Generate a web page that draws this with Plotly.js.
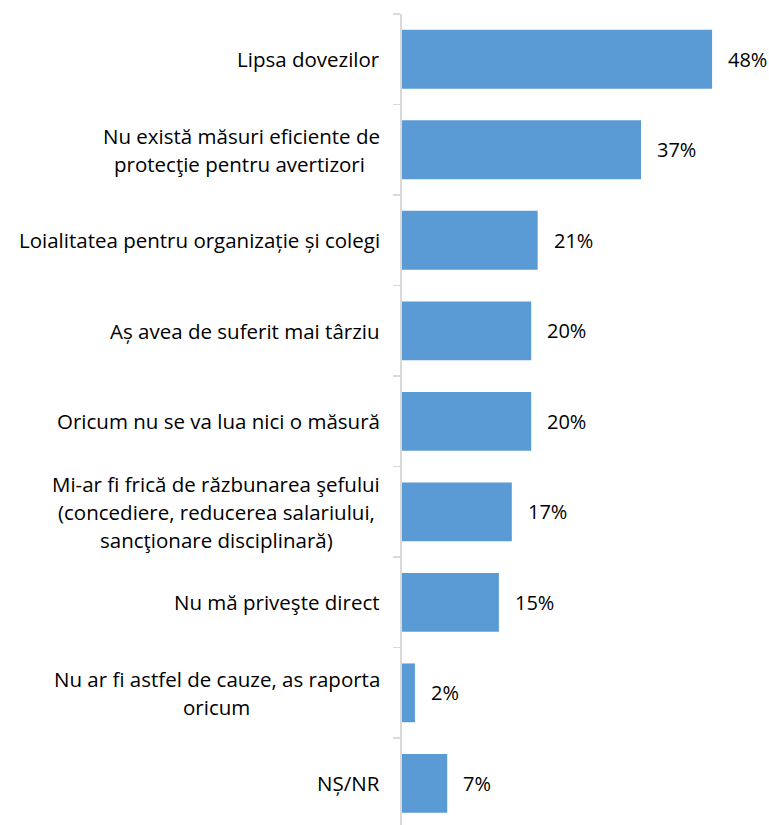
<!DOCTYPE html>
<html>
<head>
<meta charset="utf-8">
<script src="https://cdn.plot.ly/plotly-3.0.1.min.js"></script>
<style>html,body{margin:0;padding:0;background:#fff;}#chart{width:769px;height:825px;}</style>
</head>
<body>
<div id="chart"></div>
<script>
const categories = [
  "Lipsa dovezilor",
  "Nu există măsuri eficiente de<br>protecţie pentru avertizori ",
  "Loialitatea pentru organizație și colegi",
  "Aș avea de suferit mai târziu",
  "Oricum nu se va lua nici o măsură",
  "Mi-ar fi frică de răzbunarea şefului<br>(concediere, reducerea salariului,<br>sancţionare disciplinară)",
  "Nu mă priveşte direct",
  "Nu ar fi astfel de cauze, as raporta<br>oricum",
  "NȘ/NR"
];
const values = [48, 37, 21, 20, 20, 17, 15, 2, 7];
const valueLabels = ["48%", "37%", "21%", "20%", "20%", "17%", "15%", "2%", "7%"];

const FONT = "'Open Sans', 'Noto Sans', sans-serif";
const FS = 20.5;
const VFS = 20;
const LINE_H = 28;
const idx = categories.map((c, i) => i);

const meas = document.createElement('canvas').getContext('2d');
meas.font = FS + "px 'Open Sans'";

const annotations = [];
categories.forEach((c, i) => {
  const lines = c.split('<br>');
  const widths = lines.map(l => meas.measureText(l).width);
  const maxW = Math.max.apply(null, widths);
  lines.forEach((line, k) => {
    annotations.push({
      x: 0, xref: 'paper', xanchor: 'center', xshift: -22 - maxW / 2,
      y: i, yref: 'y', yanchor: 'middle',
      yshift: -(k - (lines.length - 1) / 2) * LINE_H,
      text: line, showarrow: false,
      font: {family: FONT, size: FS, color: '#000'}
    });
  });
  annotations.push({
    x: values[i], xref: 'x', xanchor: 'left', xshift: 14,
    y: i, yref: 'y', yanchor: 'middle',
    text: valueLabels[i], showarrow: false,
    font: {family: FONT, size: VFS, color: '#000'}
  });
});

const trace = {
  type: 'bar', orientation: 'h',
  x: values, y: idx,
  marker: {color: '#5B9BD5', line: {width: 0}},
  hoverinfo: 'none'
};

const layout = {
  width: 769, height: 825,
  margin: {l: 402, r: 44, t: 14, b: 0},
  paper_bgcolor: '#fff', plot_bgcolor: '#fff',
  showlegend: false,
  bargap: 0.35,
  xaxis: {range: [0, 50], visible: false, showgrid: false, zeroline: false},
  yaxis: {
    type: 'linear', range: [8.46, -0.5],
    tickmode: 'array', tickvals: [-0.5, 0.5, 1.5, 2.5, 3.5, 4.5, 5.5, 6.5, 7.5, 8.5],
    ticktext: ['', '', '', '', '', '', '', '', '', ''],
    ticks: 'outside', ticklen: 7, tickwidth: 1.5, tickcolor: '#d9d9d9',
    showline: true, linecolor: '#d9d9d9', linewidth: 2,
    showgrid: false, zeroline: false
  },
  annotations: annotations,
  font: {family: FONT, size: FS, color: '#000'}
};

document.fonts.load(FS + "px 'Open Sans'").then(() => {
  Plotly.newPlot('chart', [trace], layout, {staticPlot: true, displayModeBar: false});
});
</script>
</body>
</html>
